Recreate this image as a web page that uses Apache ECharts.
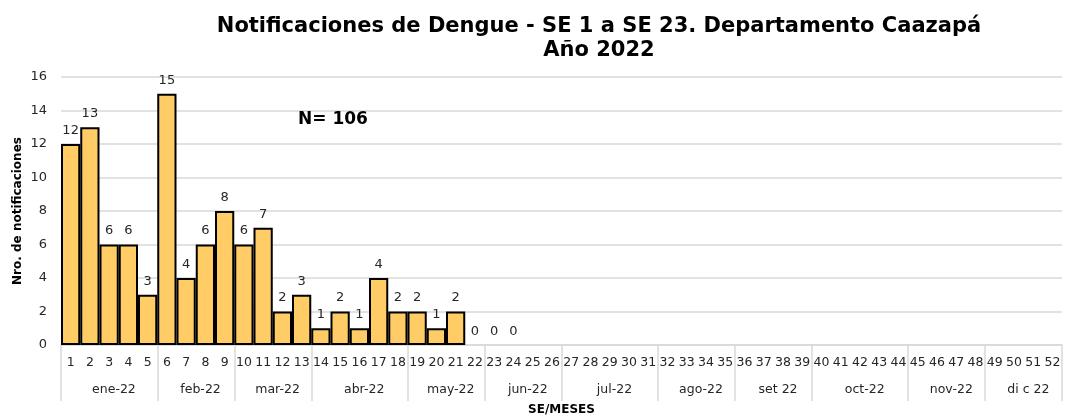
<!DOCTYPE html>
<html>
<head>
<meta charset="utf-8">
<script src="https://cdn.jsdelivr.net/npm/echarts@6/dist/echarts.min.js"></script>
<style>
  html, body { margin: 0; padding: 0; background: #fff; }
  #chart { width: 1067px; height: 418px; }
</style>
</head>
<body>
<div id="chart"></div>
<script>
var weeks = [];
for (var w = 1; w <= 52; w++) weeks.push(String(w));

// casos por semana epidemiologica (SE 1 - SE 24)
var casos = [12, 13, 6, 6, 3, 15, 4, 6, 8, 6, 7, 2, 3, 1, 2, 1, 4, 2, 2, 1, 2, 0, 0, 0];

// meses y cantidad de semanas de cada uno
var meses = ['ene-22', 'feb-22', 'mar-22', 'abr-22', 'may-22', 'jun-22', 'jul-22', 'ago-22', 'set 22', 'oct-22', 'nov-22', 'di c 22'];
var semanasMes = [5, 4, 4, 5, 4, 4, 5, 4, 4, 5, 4, 4];

var yTicks = [0, 2, 4, 6, 8, 10, 12, 14, 16];

// eje de meses en medias semanas, la etiqueta va en el centro del grupo
var mesSlots = [];
var bordes = {};
var pos = 0;
meses.forEach(function (m, i) {
  var n = semanasMes[i] * 2;
  bordes[pos] = true;
  for (var k = 0; k < n; k++) {
    mesSlots.push(k === n / 2 ? m : '');
  }
  pos += n;
});

// las barras en cero no llevan borde
var barData = casos.map(function (v) {
  return v === 0 ? { value: v, itemStyle: { borderWidth: 0 } } : v;
});

var chart = echarts.init(document.getElementById('chart'));
var font = '"DejaVu Sans", Verdana, sans-serif';

chart.setOption({
  animation: false,
  textStyle: { fontFamily: font },
  title: [{
    text: 'Notificaciones de Dengue - SE 1 a SE 23. Departamento Caazapá\nAño 2022',
    left: 594,
    top: 10,
    textAlign: 'center',
    textStyle: { fontSize: 21, fontWeight: 'bold', color: '#000', lineHeight: 24, fontFamily: font }
  }, {
    text: 'N= 106',
    left: 293,
    top: 106,
    textStyle: { fontSize: 17, fontWeight: 'bold', color: '#000', fontFamily: font }
  }],
  grid: { left: 61, right: 5, top: 77, bottom: 73, containLabel: false, outerBoundsMode: 'none' },
  xAxis: [{
    type: 'category',
    data: weeks,
    axisLine: { lineStyle: { color: '#d9d9d9', width: 1.5 } },
    axisTick: { show: false },
    axisLabel: { interval: 0, fontSize: 12.5, color: '#262626', margin: 11, fontFamily: font },
    name: 'SE/MESES',
    nameLocation: 'middle',
    nameGap: 59,
    nameMoveOverlap: false,
    nameTextStyle: { fontSize: 12, fontWeight: 'bold', color: '#000', fontFamily: font }
  }, {
    type: 'category',
    data: mesSlots,
    position: 'bottom',
    gridIndex: 0,
    axisLine: { show: false },
    axisTick: {
      show: true,
      length: 56,
      interval: function (i) { return !!bordes[i]; },
      lineStyle: { color: '#d9d9d9', width: 1.5 }
    },
    axisLabel: {
      interval: function (i, v) { return v !== ''; },
      fontSize: 12.5, color: '#262626', margin: 38, fontFamily: font
    }
  }],
  yAxis: {
    type: 'value',
    min: 0,
    max: 16,
    interval: 2,
    axisLabel: { fontSize: 13, color: '#262626', margin: 14, fontFamily: font },
    axisLine: { show: false },
    axisTick: { show: false },
    splitLine: { lineStyle: { color: '#d9d9d9', width: 1.5 } },
    name: 'Nro. de notificaciones',
    nameLocation: 'middle',
    nameGap: 37,
    nameMoveOverlap: false,
    nameTextStyle: { fontSize: 12, fontWeight: 'bold', color: '#000', fontFamily: font }
  },
  series: [{
    type: 'bar',
    data: barData,
    xAxisIndex: 0,
    barCategoryGap: '0%',
    itemStyle: { color: '#FFCC66', borderColor: '#000', borderWidth: 2 },
    label: { show: true, position: 'top', fontSize: 13, color: '#262626', distance: 7, fontFamily: font }
  }]
});
</script>
</body>
</html>
